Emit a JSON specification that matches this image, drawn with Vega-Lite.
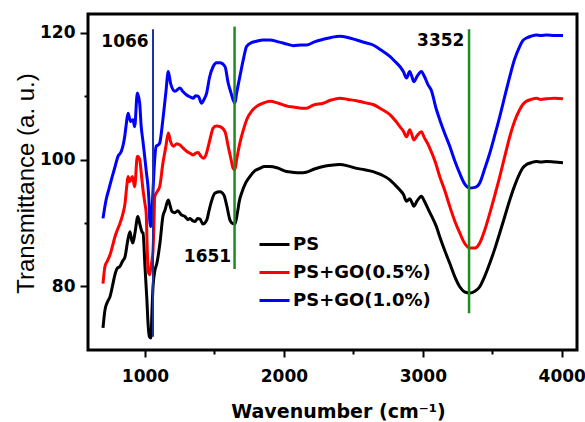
{
  "$schema": "https://vega.github.io/schema/vega-lite/v6.json",
  "width": 489,
  "height": 336,
  "autosize": {"type": "none"},
  "padding": {"left": 88, "top": 14, "right": 8, "bottom": 72},
  "background": "white",
  "config": {"view": {"stroke": "black", "strokeWidth": 3}, "font": "DejaVu Sans"},
  "datasets": {
    "ps": [
      {"wn":698,"t":73.4},{"wn":712,"t":76.2},{"wn":730,"t":77.5},{"wn":748,"t":78.3},{"wn":766,"t":80.0},{"wn":784,"t":81.8},{"wn":800,"t":82.8},{"wn":820,"t":83.1},{"wn":840,"t":84.0},{"wn":856,"t":84.6},{"wn":877,"t":87.3},{"wn":892,"t":88.6},{"wn":905,"t":87.2},{"wn":913,"t":86.8},{"wn":928,"t":88.4},{"wn":949,"t":91.0},{"wn":964,"t":89.7},{"wn":980,"t":88.5},{"wn":986,"t":88.4},{"wn":1000,"t":83.1},{"wn":1014,"t":77.8},{"wn":1022,"t":74.2},{"wn":1032,"t":72.0},{"wn":1043,"t":71.8},{"wn":1050,"t":75.7},{"wn":1058,"t":79.9},{"wn":1072,"t":82.5},{"wn":1086,"t":83.6},{"wn":1100,"t":85.5},{"wn":1108,"t":86.8},{"wn":1129,"t":91.0},{"wn":1144,"t":92.0},{"wn":1168,"t":93.6},{"wn":1180,"t":92.8},{"wn":1194,"t":91.8},{"wn":1215,"t":91.6},{"wn":1237,"t":91.9},{"wn":1260,"t":91.3},{"wn":1288,"t":91.0},{"wn":1310,"t":90.5},{"wn":1324,"t":90.7},{"wn":1345,"t":90.3},{"wn":1360,"t":90.2},{"wn":1380,"t":90.7},{"wn":1396,"t":90.6},{"wn":1417,"t":89.8},{"wn":1446,"t":90.5},{"wn":1460,"t":91.8},{"wn":1475,"t":93.1},{"wn":1504,"t":94.7},{"wn":1540,"t":94.9},{"wn":1568,"t":94.4},{"wn":1590,"t":92.6},{"wn":1611,"t":90.5},{"wn":1630,"t":89.9},{"wn":1647,"t":89.8},{"wn":1665,"t":91.5},{"wn":1680,"t":93.5},{"wn":1696,"t":94.7},{"wn":1725,"t":96.3},{"wn":1755,"t":97.3},{"wn":1790,"t":98.2},{"wn":1827,"t":98.6},{"wn":1860,"t":98.9},{"wn":1899,"t":98.9},{"wn":1950,"t":98.7},{"wn":2019,"t":98.1},{"wn":2060,"t":98.0},{"wn":2115,"t":97.9},{"wn":2160,"t":98.0},{"wn":2220,"t":98.5},{"wn":2283,"t":98.9},{"wn":2340,"t":99.1},{"wn":2403,"t":99.2},{"wn":2460,"t":99.0},{"wn":2523,"t":98.6},{"wn":2580,"t":98.4},{"wn":2642,"t":98.1},{"wn":2700,"t":97.6},{"wn":2763,"t":96.8},{"wn":2800,"t":96.0},{"wn":2835,"t":95.2},{"wn":2860,"t":94.5},{"wn":2883,"t":93.4},{"wn":2906,"t":93.8},{"wn":2920,"t":93.3},{"wn":2935,"t":92.6},{"wn":2960,"t":93.5},{"wn":2990,"t":94.2},{"wn":3010,"t":93.5},{"wn":3038,"t":92.2},{"wn":3060,"t":91.2},{"wn":3098,"t":89.4},{"wn":3122,"t":87.8},{"wn":3160,"t":85.5},{"wn":3194,"t":83.6},{"wn":3230,"t":81.5},{"wn":3266,"t":79.9},{"wn":3300,"t":79.1},{"wn":3338,"t":78.9},{"wn":3375,"t":79.2},{"wn":3410,"t":79.9},{"wn":3445,"t":81.5},{"wn":3482,"t":83.6},{"wn":3520,"t":86.0},{"wn":3554,"t":88.4},{"wn":3590,"t":91.0},{"wn":3626,"t":93.6},{"wn":3660,"t":95.8},{"wn":3698,"t":97.8},{"wn":3720,"t":98.7},{"wn":3746,"t":99.2},{"wn":3780,"t":99.5},{"wn":3818,"t":99.7},{"wn":3850,"t":99.6},{"wn":3890,"t":99.7},{"wn":3950,"t":99.6},{"wn":4009,"t":99.5}
    ],
    "go05": [
      {"wn":698,"t":80.4},{"wn":712,"t":83.1},{"wn":730,"t":84.0},{"wn":748,"t":84.9},{"wn":766,"t":86.3},{"wn":784,"t":87.8},{"wn":800,"t":88.8},{"wn":820,"t":89.9},{"wn":842,"t":91.5},{"wn":856,"t":93.0},{"wn":870,"t":96.0},{"wn":878,"t":97.3},{"wn":890,"t":96.5},{"wn":909,"t":97.3},{"wn":926,"t":95.7},{"wn":945,"t":100.5},{"wn":962,"t":100.0},{"wn":975,"t":97.5},{"wn":986,"t":95.2},{"wn":1000,"t":93.0},{"wn":1009,"t":91.5},{"wn":1015,"t":87.0},{"wn":1022,"t":82.5},{"wn":1034,"t":81.8},{"wn":1040,"t":82.5},{"wn":1050,"t":84.0},{"wn":1058,"t":85.7},{"wn":1065,"t":90.0},{"wn":1070,"t":94.1},{"wn":1090,"t":95.0},{"wn":1106,"t":95.7},{"wn":1129,"t":99.4},{"wn":1150,"t":102.0},{"wn":1168,"t":104.2},{"wn":1185,"t":102.8},{"wn":1204,"t":102.1},{"wn":1230,"t":102.5},{"wn":1252,"t":102.3},{"wn":1275,"t":101.8},{"wn":1300,"t":101.3},{"wn":1325,"t":101.0},{"wn":1348,"t":100.7},{"wn":1365,"t":101.0},{"wn":1384,"t":101.1},{"wn":1400,"t":100.6},{"wn":1420,"t":100.2},{"wn":1440,"t":100.8},{"wn":1456,"t":102.1},{"wn":1475,"t":103.8},{"wn":1491,"t":105.0},{"wn":1515,"t":105.3},{"wn":1540,"t":105.2},{"wn":1576,"t":104.4},{"wn":1599,"t":102.1},{"wn":1620,"t":100.0},{"wn":1635,"t":98.6},{"wn":1647,"t":98.4},{"wn":1660,"t":100.0},{"wn":1683,"t":102.6},{"wn":1710,"t":104.8},{"wn":1732,"t":106.3},{"wn":1770,"t":107.7},{"wn":1804,"t":108.4},{"wn":1850,"t":108.9},{"wn":1899,"t":109.2},{"wn":1960,"t":108.9},{"wn":2030,"t":108.4},{"wn":2067,"t":108.3},{"wn":2130,"t":108.1},{"wn":2163,"t":108.1},{"wn":2211,"t":108.6},{"wn":2283,"t":108.9},{"wn":2340,"t":109.4},{"wn":2403,"t":109.7},{"wn":2460,"t":109.5},{"wn":2523,"t":109.3},{"wn":2580,"t":109.0},{"wn":2642,"t":108.7},{"wn":2700,"t":108.0},{"wn":2763,"t":107.1},{"wn":2800,"t":106.2},{"wn":2835,"t":105.2},{"wn":2860,"t":104.5},{"wn":2883,"t":103.6},{"wn":2906,"t":104.7},{"wn":2920,"t":104.0},{"wn":2935,"t":103.1},{"wn":2960,"t":103.8},{"wn":2990,"t":104.4},{"wn":3010,"t":103.5},{"wn":3038,"t":102.4},{"wn":3050,"t":101.8},{"wn":3090,"t":99.6},{"wn":3122,"t":97.3},{"wn":3160,"t":95.0},{"wn":3194,"t":92.6},{"wn":3230,"t":90.3},{"wn":3266,"t":88.4},{"wn":3300,"t":86.8},{"wn":3338,"t":86.0},{"wn":3375,"t":86.0},{"wn":3410,"t":86.8},{"wn":3445,"t":88.8},{"wn":3482,"t":91.5},{"wn":3520,"t":94.5},{"wn":3554,"t":97.3},{"wn":3590,"t":100.5},{"wn":3626,"t":103.6},{"wn":3660,"t":106.0},{"wn":3698,"t":107.9},{"wn":3720,"t":108.7},{"wn":3746,"t":109.2},{"wn":3780,"t":109.5},{"wn":3818,"t":109.7},{"wn":3850,"t":109.5},{"wn":3890,"t":109.6},{"wn":3950,"t":109.7},{"wn":4009,"t":109.6}
    ],
    "go10": [
      {"wn":698,"t":90.7},{"wn":720,"t":93.6},{"wn":740,"t":95.3},{"wn":758,"t":96.8},{"wn":780,"t":98.5},{"wn":806,"t":100.5},{"wn":830,"t":101.3},{"wn":845,"t":102.5},{"wn":854,"t":103.6},{"wn":865,"t":105.5},{"wn":878,"t":107.3},{"wn":897,"t":106.0},{"wn":914,"t":106.3},{"wn":926,"t":105.2},{"wn":945,"t":110.5},{"wn":962,"t":108.9},{"wn":973,"t":105.2},{"wn":985,"t":103.0},{"wn":998,"t":100.5},{"wn":1010,"t":98.0},{"wn":1022,"t":95.7},{"wn":1030,"t":93.0},{"wn":1034,"t":90.5},{"wn":1040,"t":89.4},{"wn":1048,"t":91.0},{"wn":1060,"t":96.0},{"wn":1070,"t":100.0},{"wn":1081,"t":102.1},{"wn":1095,"t":102.3},{"wn":1106,"t":102.6},{"wn":1129,"t":106.3},{"wn":1150,"t":110.5},{"wn":1168,"t":113.9},{"wn":1185,"t":112.0},{"wn":1216,"t":110.8},{"wn":1252,"t":111.3},{"wn":1275,"t":110.7},{"wn":1300,"t":110.2},{"wn":1325,"t":109.9},{"wn":1348,"t":109.7},{"wn":1365,"t":110.1},{"wn":1384,"t":110.0},{"wn":1408,"t":108.9},{"wn":1425,"t":109.5},{"wn":1444,"t":110.5},{"wn":1465,"t":113.0},{"wn":1491,"t":114.7},{"wn":1515,"t":115.3},{"wn":1540,"t":115.3},{"wn":1576,"t":114.7},{"wn":1599,"t":112.1},{"wn":1620,"t":110.5},{"wn":1635,"t":109.4},{"wn":1647,"t":108.9},{"wn":1660,"t":110.5},{"wn":1683,"t":113.1},{"wn":1710,"t":116.0},{"wn":1732,"t":117.9},{"wn":1770,"t":118.5},{"wn":1804,"t":118.7},{"wn":1850,"t":118.9},{"wn":1899,"t":118.9},{"wn":1960,"t":118.6},{"wn":2030,"t":118.2},{"wn":2067,"t":118.0},{"wn":2130,"t":118.1},{"wn":2163,"t":118.1},{"wn":2220,"t":118.6},{"wn":2283,"t":119.0},{"wn":2340,"t":119.3},{"wn":2403,"t":119.5},{"wn":2460,"t":119.3},{"wn":2523,"t":118.9},{"wn":2580,"t":118.5},{"wn":2642,"t":118.1},{"wn":2700,"t":117.3},{"wn":2763,"t":116.3},{"wn":2800,"t":115.5},{"wn":2835,"t":114.7},{"wn":2860,"t":113.9},{"wn":2883,"t":112.9},{"wn":2906,"t":113.9},{"wn":2920,"t":113.2},{"wn":2935,"t":112.3},{"wn":2960,"t":113.2},{"wn":2990,"t":113.9},{"wn":3010,"t":113.2},{"wn":3038,"t":111.8},{"wn":3060,"t":111.0},{"wn":3098,"t":107.9},{"wn":3122,"t":106.3},{"wn":3160,"t":104.0},{"wn":3194,"t":102.1},{"wn":3230,"t":99.8},{"wn":3266,"t":97.8},{"wn":3300,"t":96.2},{"wn":3338,"t":95.5},{"wn":3375,"t":95.6},{"wn":3410,"t":96.3},{"wn":3445,"t":98.5},{"wn":3482,"t":101.0},{"wn":3520,"t":104.0},{"wn":3554,"t":106.8},{"wn":3590,"t":110.0},{"wn":3626,"t":113.1},{"wn":3660,"t":115.8},{"wn":3698,"t":117.9},{"wn":3720,"t":118.8},{"wn":3746,"t":119.2},{"wn":3780,"t":119.5},{"wn":3818,"t":119.7},{"wn":3850,"t":119.6},{"wn":3890,"t":119.7},{"wn":3950,"t":119.6},{"wn":4009,"t":119.6}
    ],
    "rules": [
      {"label": "1066", "pos": 1058, "y1": 72.0, "y2": 120.6},
      {"label": "1651", "pos": 1645, "y1": 82.7, "y2": 121.0},
      {"label": "3352", "pos": 3333, "y1": 75.7, "y2": 120.6}
    ],
    "labels": [
      {"label": "1066", "x": 856, "y": 118.6},
      {"label": "1651", "x": 1450, "y": 84.6},
      {"label": "3352", "x": 3129, "y": 118.7}
    ]
  },
  "encoding": {
    "x": {
      "field": "wn",
      "type": "quantitative",
      "scale": {"domain": [590, 4110], "nice": false, "zero": false},
      "axis": {
        "title": "Wavenumber (cm⁻¹)",
        "values": [1000, 1500, 2000, 2500, 3000, 3500, 4000],
        "format": "d",
        "labelExpr": "datum.value % 1000 === 0 ? datum.label : ''",
        "grid": false,
        "domain": false,
        "tickColor": "black",
        "tickWidth": 2,
        "tickSize": {"condition": {"test": "datum.value % 1000 === 0", "value": 7}, "value": 4},
        "labelPadding": 11,
        "labelFont": "DejaVu Sans",
        "labelFontSize": 17,
        "labelFontWeight": "bold",
        "labelColor": "black",
        "labelFlush": false,
        "titleFont": "DejaVu Sans",
        "titleFontSize": 19,
        "titleFontWeight": "bold",
        "titleColor": "black",
        "titleX": 250,
        "titleY": 67,
        "titleBaseline": "alphabetic"
      }
    },
    "y": {
      "field": "t",
      "type": "quantitative",
      "scale": {"domain": [69.9, 123], "nice": false, "zero": false},
      "axis": {
        "title": "Transmittance (a. u.)",
        "values": [80, 90, 100, 110, 120],
        "labelExpr": "datum.value % 20 === 0 ? datum.label : ''",
        "grid": false,
        "domain": false,
        "tickColor": "black",
        "tickWidth": 2,
        "tickSize": {"condition": {"test": "datum.value % 20 === 0", "value": 8}, "value": 4},
        "labelPadding": 5,
        "labelFont": "DejaVu Sans",
        "labelFontSize": 17,
        "labelFontWeight": "bold",
        "labelColor": "black",
        "labelFlush": false,
        "titleFont": "Liberation Sans",
        "titleFontSize": 24,
        "titleFontWeight": "normal",
        "titleColor": "black",
        "titleX": -55,
        "titleY": 169,
        "titleAngle": -90,
        "titleAlign": "center",
        "titleBaseline": "alphabetic"
      }
    }
  },
  "layer": [
    {
      "data": {"name": "ps"},
      "mark": {"type": "line", "strokeWidth": 3, "interpolate": "monotone"},
      "encoding": {"color": {"datum": "PS"}}
    },
    {
      "data": {"name": "go05"},
      "mark": {"type": "line", "strokeWidth": 3, "interpolate": "monotone"},
      "encoding": {"color": {"datum": "PS+GO(0.5%)"}}
    },
    {
      "data": {"name": "go10"},
      "mark": {"type": "line", "strokeWidth": 3, "interpolate": "monotone"},
      "encoding": {
        "color": {
          "datum": "PS+GO(1.0%)",
          "type": "nominal",
          "scale": {"domain": ["PS", "PS+GO(0.5%)", "PS+GO(1.0%)"], "range": ["#000000", "#ff0000", "#0000ff"]},
          "legend": {
            "title": null,
            "orient": "none",
            "legendX": 175,
            "legendY": 219,
            "padding": 0,
            "symbolType": "M-1.5,0H1.5",
            "symbolSize": 400,
            "symbolStrokeWidth": 3,
            "symbolFillColor": "transparent",
            "rowPadding": 7,
            "labelOffset": 7,
            "labelFont": "DejaVu Sans",
            "labelFontSize": 18,
            "labelFontWeight": "bold",
            "labelColor": "black",
            "labelLimit": 300
          }
        }
      }
    },
    {
      "data": {"name": "rules"},
      "transform": [{"filter": "datum.label === '1066'"}],
      "mark": {"type": "rule", "color": "#1c32a6", "strokeWidth": 2},
      "encoding": {
        "x": {"field": "pos", "type": "quantitative"},
        "y": {"field": "y1", "type": "quantitative"},
        "y2": {"field": "y2"}
      }
    },
    {
      "data": {"name": "rules"},
      "transform": [{"filter": "datum.label !== '1066'"}],
      "mark": {"type": "rule", "color": "#1e8c1e", "strokeWidth": 2.5},
      "encoding": {
        "x": {"field": "pos", "type": "quantitative"},
        "y": {"field": "y1", "type": "quantitative"},
        "y2": {"field": "y2"}
      }
    },
    {
      "data": {"name": "labels"},
      "mark": {"type": "text", "font": "DejaVu Sans", "fontSize": 17, "fontWeight": "bold", "color": "black", "align": "center", "baseline": "middle"},
      "encoding": {
        "x": {"field": "x", "type": "quantitative"},
        "y": {"field": "y", "type": "quantitative"},
        "text": {"field": "label"}
      }
    }
  ]
}
